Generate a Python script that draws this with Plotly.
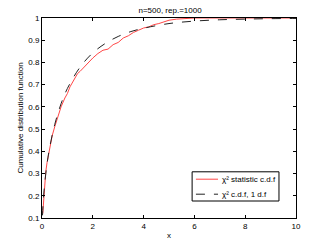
import plotly.graph_objects as go

emp_x = [0.03, 0.06, 0.1, 0.15, 0.2, 0.3, 0.4, 0.5, 0.6, 0.75, 0.9, 1.0, 1.1, 1.25,
         1.4, 1.5, 1.7, 1.9, 2.0, 2.2, 2.4, 2.6, 2.8, 3.0, 3.2, 3.4, 3.6, 3.8,
         4.0, 4.2, 4.4, 4.6, 4.8, 5.0, 5.3, 5.6, 6.0, 7.0, 8.0, 9.0, 10.0]
emp_y = [0.12, 0.18, 0.25, 0.31, 0.35, 0.42, 0.47, 0.51, 0.55, 0.60, 0.64, 0.66, 0.69, 0.72,
         0.75, 0.76, 0.785, 0.81, 0.82, 0.84, 0.855, 0.86, 0.88, 0.89, 0.91, 0.92, 0.935, 0.945,
         0.955, 0.96, 0.97, 0.975, 0.983, 0.99, 0.995, 0.998, 1.0, 1.0, 1.0, 1.0, 1.0]

# theoretical chi^2 c.d.f., 1 d.f.
th_x = [0.02, 0.05, 0.1, 0.2, 0.3, 0.5, 0.75, 1.0, 1.5, 2.0, 2.5, 3.0, 3.5,
        4.0, 5.0, 6.0, 7.0, 8.0, 9.0, 10.0]
th_y = [0.112, 0.177, 0.248, 0.345, 0.416, 0.520, 0.614, 0.683, 0.779, 0.843, 0.886, 0.917, 0.939,
        0.954, 0.975, 0.986, 0.992, 0.995, 0.997, 0.998]

series_names = ["χ² statistic c.d.f", "χ² c.d.f, 1 d.f"]

font = dict(family="Liberation Sans, Arial, sans-serif", size=8, color="black")
RED = "rgb(255,70,70)"
DARK = "#222222"

fig = go.Figure()
fig.add_trace(go.Scatter(
    x=emp_x, y=emp_y, mode="lines",
    line=dict(color=RED, width=1),
    name=series_names[0],
))
fig.add_trace(go.Scatter(
    x=th_x, y=th_y, mode="lines", line_shape="spline",
    line=dict(color=DARK, width=1, dash="dash"),
    name=series_names[1],
))

axis_common = dict(
    showline=True, linecolor="black", linewidth=1, mirror="ticks",
    ticks="inside", ticklen=3, tickcolor="black",
    showgrid=False, zeroline=False, tickfont=font, automargin=False,
)
fig.update_xaxes(range=[0, 10], dtick=2, title=dict(text="x", font=font, standoff=2), **axis_common)
fig.update_yaxes(range=[0.1, 1], dtick=0.1, tickformat=".1~f",
                 title=dict(text="Cumulative distribution function", font=font, standoff=3),
                 **axis_common)

# compact MATLAB-style legend box (plotly's own legend rows are too tall here)
fig.add_shape(type="rect", xref="paper", yref="paper",
              x0=0.591, x1=0.933, y0=0.085, y1=0.231,
              line=dict(color="black", width=1), fillcolor="white", layer="above")
for name, color, dash, yy in [(series_names[0], RED, "solid", 0.194),
                              (series_names[1], DARK, "dash", 0.119)]:
    fig.add_shape(type="line", xref="paper", yref="paper",
                  x0=0.606, x1=0.693, y0=yy, y1=yy,
                  line=dict(color=color, width=1, dash=dash), layer="above")
    fig.add_annotation(text=name, xref="paper", yref="paper", x=0.7, y=yy,
                       xanchor="left", yanchor="middle", showarrow=False, font=font)

fig.update_layout(
    width=327, height=246,
    margin=dict(l=42, r=31, t=18, b=28),
    paper_bgcolor="white", plot_bgcolor="white",
    font=font,
    title=dict(text="n=500, rep.=1000", x=0.52, xanchor="center", y=0.96, yanchor="middle", font=font),
    showlegend=False,
)

fig.write_html("out.html", config={"displayModeBar": False},
               post_script="document.body.style.margin='0';")
